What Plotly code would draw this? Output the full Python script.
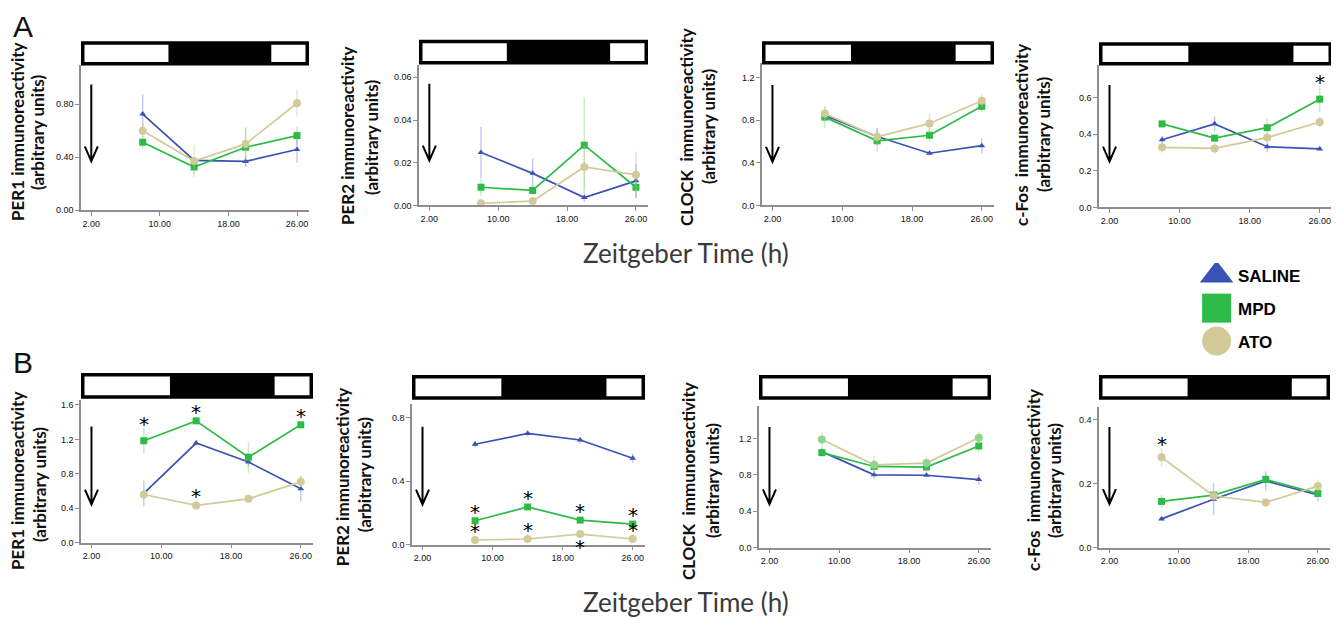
import plotly.graph_objects as go

# ---------------- data ----------------
zt = [8, 14, 20, 26]
groups = ["SALINE", "MPD", "ATO"]
x_tick_vals = [2, 10, 18, 26]
x_tick_text = ["2.00", "10.00", "18.00", "26.00"]
dark_start, dark_end = 11, 23   # dark phase of the light/dark bar (ZT)
arrow_zt = 2

# Panel A (top row)
a_per1_saline = [0.726, 0.377, 0.369, 0.459]
a_per1_mpd = [0.514, 0.327, 0.476, 0.564]
a_per1_ato = [0.601, 0.372, 0.501, 0.808]
a_per1_saline_err = [0.15, 0.02, 0.04, 0.10]
a_per1_mpd_err = [0.05, 0.05, 0.15, 0.07]
a_per1_ato_err = [0.05, 0.12, 0.12, 0.10]

a_per2_saline = [0.0248, 0.0150, 0.0037, 0.0115]
a_per2_mpd = [0.0085, 0.0070, 0.0282, 0.0085]
a_per2_ato = [0.0010, 0.0020, 0.0180, 0.0143]
a_per2_saline_err = [0.012, 0.007, 0.002, 0.008]
a_per2_mpd_err = [0.004, 0.002, 0.0225, 0.005]
a_per2_ato_err = [0.001, 0.001, 0.010, 0.011]

a_clock_saline = [0.843, 0.646, 0.489, 0.560]
a_clock_mpd = [0.828, 0.606, 0.658, 0.929]
a_clock_ato = [0.862, 0.643, 0.769, 0.982]
a_clock_saline_err = [0.05, 0.08, 0.02, 0.07]
a_clock_mpd_err = [0.10, 0.10, 0.06, 0.05]
a_clock_ato_err = [0.07, 0.07, 0.09, 0.06]

a_cfos_saline = [0.369, 0.456, 0.331, 0.319]
a_cfos_mpd = [0.456, 0.378, 0.435, 0.591]
a_cfos_ato = [0.328, 0.322, 0.381, 0.466]
a_cfos_saline_err = [0.02, 0.04, 0.03, 0.01]
a_cfos_mpd_err = [0.02, 0.02, 0.05, 0.07]
a_cfos_ato_err = [0.03, 0.03, 0.02, 0.03]

# Panel B (bottom row)
b_per1_saline = [0.571, 1.157, 0.936, 0.625]
b_per1_mpd = [1.184, 1.415, 0.993, 1.369]
b_per1_ato = [0.559, 0.432, 0.509, 0.706]
b_per1_saline_err = [0.15, 0.03, 0.05, 0.15]
b_per1_mpd_err = [0.15, 0.03, 0.18, 0.04]
b_per1_ato_err = [0.05, 0.05, 0.03, 0.07]

b_per2_saline = [0.632, 0.700, 0.659, 0.544]
b_per2_mpd = [0.150, 0.237, 0.154, 0.129]
b_per2_ato = [0.029, 0.035, 0.066, 0.035]
b_per2_saline_err = [0.02, 0.02, 0.02, 0.03]
b_per2_mpd_err = [0.01, 0.01, 0.01, 0.01]
b_per2_ato_err = [0.005, 0.005, 0.005, 0.005]

b_clock_saline = [1.055, 0.800, 0.795, 0.748]
b_clock_mpd = [1.044, 0.892, 0.885, 1.117]
b_clock_ato = [1.189, 0.910, 0.929, 1.207]
b_clock_saline_err = [0.05, 0.05, 0.02, 0.06]
b_clock_mpd_err = [0.04, 0.05, 0.05, 0.07]
b_clock_ato_err = [0.08, 0.10, 0.08, 0.07]

b_cfos_saline = [0.0895, 0.151, 0.208, 0.164]
b_cfos_mpd = [0.144, 0.164, 0.213, 0.169]
b_cfos_ato = [0.282, 0.161, 0.141, 0.192]
b_cfos_saline_err = [0.005, 0.05, 0.03, 0.02]
b_cfos_mpd_err = [0.02, 0.01, 0.02, 0.01]
b_cfos_ato_err = [0.03, 0.01, 0.01, 0.02]

# significance marks: (group, time index, side)
a_cfos_sig = [("MPD", 3, "up")]
b_per1_sig = [("MPD", 0, "up"), ("MPD", 1, "up"), ("MPD", 3, "up"), ("ATO", 1, "up")]
b_per2_sig = [("MPD", 0, "up"), ("MPD", 1, "up"), ("MPD", 2, "up"), ("MPD", 3, "up"),
              ("ATO", 0, "up"), ("ATO", 1, "up"), ("ATO", 2, "down"), ("ATO", 3, "up")]
b_cfos_sig = [("ATO", 0, "up")]

# ---------------- styling ----------------
PAGE_W, PAGE_H = 1339, 619
OFF = 8                          # default page margin of the html body
W, H = PAGE_W - OFF, PAGE_H - OFF
XR = [0.8, 27.4]
colors = {"SALINE": "#3a52b6", "MPD": "#2dbb48", "ATO": "#d2ca98"}
err_colors = {"SALINE": "rgba(90,110,210,0.35)", "MPD": "rgba(60,200,80,0.30)",
              "ATO": "rgba(200,195,130,0.40)"}
symbols = {"SALINE": "triangle-up", "MPD": "square", "ATO": "circle"}
msizes = {"SALINE": 6, "MPD": 7, "ATO": 8}
axis_col = "#8e8e8e"
FONT = "Liberation Sans, Arial"


def px(x):
    return (x - OFF) / W


def py(y):
    return 1 - (y - OFF) / H


panels = [
    dict(vals=(a_per1_saline, a_per1_mpd, a_per1_ato),
         errs=(a_per1_saline_err, a_per1_mpd_err, a_per1_ato_err),
         ymax=1.10, tv=[0, 0.4, 0.8], tt=["0.00", "0.40", "0.80"],
         xpx=(81, 309), ypx=(65, 212), bar=(41.5, 66), arrow=(0.95, 0.37),
         lab1="PER1 immunoreactivity", l1=(18, 133), l2=(38, 134), sig=[]),
    dict(vals=(a_per2_saline, a_per2_mpd, a_per2_ato),
         errs=(a_per2_saline_err, a_per2_mpd_err, a_per2_ato_err),
         ymax=0.066, tv=[0, 0.02, 0.04, 0.06], tt=["0.00", "0.02", "0.04", "0.06"],
         xpx=(419, 648), ypx=(65, 207), bar=(40, 65), arrow=(0.057, 0.021),
         lab1="PER2 immunoreactivity", l1=(348, 137), l2=(372, 138), sig=[]),
    dict(vals=(a_clock_saline, a_clock_mpd, a_clock_ato),
         errs=(a_clock_saline_err, a_clock_mpd_err, a_clock_ato_err),
         ymax=1.34, tv=[0, 0.4, 0.8, 1.2], tt=["0.0", "0.4", "0.8", "1.2"],
         xpx=(762, 994), ypx=(63, 207), bar=(41.5, 65), arrow=(1.13, 0.41),
         lab1="CLOCK  immunoreactivity", l1=(686, 128), l2=(708, 128), sig=[]),
    dict(vals=(a_cfos_saline, a_cfos_mpd, a_cfos_ato),
         errs=(a_cfos_saline_err, a_cfos_mpd_err, a_cfos_ato_err),
         ymax=0.78, tv=[0, 0.2, 0.4, 0.6], tt=["0.0", "0.2", "0.4", "0.6"],
         xpx=(1099, 1332), ypx=(65, 209), bar=(42.5, 66), arrow=(0.668, 0.25),
         lab1="c-Fos  immunoreactivity", l1=(1022, 136), l2=(1044, 136), sig=a_cfos_sig),
    dict(vals=(b_per1_saline, b_per1_mpd, b_per1_ato),
         errs=(b_per1_saline_err, b_per1_mpd_err, b_per1_ato_err),
         ymax=1.66, tv=[0, 0.4, 0.8, 1.2, 1.6], tt=["0.0", "0.4", "0.8", "1.2", "1.6"],
         xpx=(81, 313), ypx=(403, 547), bar=(376, 402), arrow=(1.35, 0.443),
         lab1="PER1 immunoreactivity", l1=(17, 485), l2=(39, 488), sig=b_per1_sig),
    dict(vals=(b_per2_saline, b_per2_mpd, b_per2_ato),
         errs=(b_per2_saline_err, b_per2_mpd_err, b_per2_ato_err),
         ymax=0.8875, tv=[0, 0.4, 0.8], tt=["0.0", "0.4", "0.8"],
         xpx=(412, 645), ypx=(407, 549), bar=(378, 403), arrow=(0.742, 0.253),
         lab1="PER2 immunoreactivity", l1=(342, 480), l2=(364, 478), sig=b_per2_sig),
    dict(vals=(b_clock_saline, b_clock_mpd, b_clock_ato),
         errs=(b_clock_saline_err, b_clock_mpd_err, b_clock_ato_err),
         ymax=1.56, tv=[0, 0.4, 0.8, 1.2], tt=["0.0", "0.4", "0.8", "1.2"],
         xpx=(759, 991), ypx=(409, 552), bar=(378, 403), arrow=(1.326, 0.477),
         lab1="CLOCK  immunoreactivity", l1=(688, 485), l2=(712, 485), sig=[]),
    dict(vals=(b_cfos_saline, b_cfos_mpd, b_cfos_ato),
         errs=(b_cfos_saline_err, b_cfos_mpd_err, b_cfos_ato_err),
         ymax=0.44, tv=[0, 0.2, 0.4], tt=["0.0", "0.2", "0.4"],
         xpx=(1099, 1330), ypx=(410, 552), bar=(378, 403), arrow=(0.377, 0.136),
         lab1="c-Fos  immunoreactivity", l1=(1033, 484), l2=(1054, 485), sig=b_cfos_sig),
]

fig = go.Figure()
shapes = []
annotations = []
layout = {}
label_font = dict(family="Lato, Liberation Sans", size=17, color="#111")
tick_font = dict(family=FONT, size=9, color="#111")

for i, p in enumerate(panels):
    n = i + 1
    xa = "x" if n == 1 else f"x{n}"
    ya = "y" if n == 1 else f"y{n}"
    xkey = "xaxis" if n == 1 else f"xaxis{n}"
    ykey = "yaxis" if n == 1 else f"yaxis{n}"
    x0p, x1p = p["xpx"]
    y0p, y1p = p["ypx"]
    layout[xkey] = dict(domain=[px(x0p), px(x1p)], range=XR, anchor=ya,
                        tickvals=x_tick_vals, ticktext=x_tick_text,
                        showline=True, linecolor=axis_col, linewidth=1.5,
                        ticks="outside", ticklen=4, tickcolor=axis_col, tickwidth=1,
                        showgrid=False, zeroline=False, tickfont=tick_font)
    layout[ykey] = dict(domain=[py(y1p), py(y0p)], range=[0, p["ymax"]], anchor=xa,
                        tickvals=p["tv"], ticktext=p["tt"],
                        showline=True, linecolor=axis_col, linewidth=1.5,
                        ticks="outside", ticklen=4, tickcolor=axis_col, tickwidth=1,
                        showgrid=False, zeroline=False, tickfont=tick_font)

    for g, v, e in zip(groups, p["vals"], p["errs"]):
        mcol = colors[g]
        if i == 6 and g == "ATO":
            mcol = "#8fd68a"
        fig.add_trace(go.Scatter(
            x=zt, y=v, mode="lines+markers", xaxis=xa, yaxis=ya, showlegend=False,
            line=dict(color=colors[g], width=1.7),
            marker=dict(symbol=symbols[g], size=msizes[g], color=mcol),
            error_y=dict(type="data", array=e, visible=True, color=err_colors[g],
                         thickness=1.5, width=0),
            cliponaxis=False, name=g))

    # pixels per unit
    ppx = (x1p - x0p) / (XR[1] - XR[0])
    ppy = (y1p - y0p) / p["ymax"]

    # light/dark bar
    b_top, b_bot = p["bar"]
    inset = 3.5
    shapes.append(dict(type="rect", xref=xa, yref="paper", x0=XR[0], x1=XR[1],
                       y0=py(b_bot), y1=py(b_top), fillcolor="black",
                       line=dict(width=0), layer="above"))
    shapes.append(dict(type="rect", xref=xa, yref="paper", x0=XR[0] + inset / ppx,
                       x1=dark_start, y0=py(b_bot - inset), y1=py(b_top + inset),
                       fillcolor="white", line=dict(width=0), layer="above"))
    shapes.append(dict(type="rect", xref=xa, yref="paper", x0=dark_end,
                       x1=XR[1] - inset / ppx, y0=py(b_bot - inset), y1=py(b_top + inset),
                       fillcolor="white", line=dict(width=0), layer="above"))

    # downward arrow
    atop, abot = p["arrow"]
    hw = 6.5 / ppx
    hh = 15 / ppy
    path = (f"M {arrow_zt},{atop} L {arrow_zt},{abot} "
            f"M {arrow_zt - hw},{abot + hh} L {arrow_zt},{abot} L {arrow_zt + hw},{abot + hh}")
    shapes.append(dict(type="path", xref=xa, yref=ya, path=path,
                       line=dict(color="black", width=2)))

    # y labels (two lines)
    annotations.append(dict(text="<b>" + p["lab1"] + "</b>", xref="paper", yref="paper",
                            x=px(p["l1"][0]), y=py(p["l1"][1]), textangle=-90,
                            showarrow=False, xanchor="center", yanchor="middle",
                            font=label_font))
    annotations.append(dict(text="<b>(arbitrary units)</b>", xref="paper", yref="paper",
                            x=px(p["l2"][0]), y=py(p["l2"][1]), textangle=-90,
                            showarrow=False, xanchor="center", yanchor="middle",
                            font=label_font))

    # significance asterisks (placed just clear of the error bar)
    for g, idx, side in p["sig"]:
        gi = groups.index(g)
        yv = p["vals"][gi][idx]
        off = max(11, p["errs"][gi][idx] * ppy + 6)
        shift = off - 2 if side == "up" else -off - 2
        annotations.append(dict(text="*", xref=xa, yref=ya, x=zt[idx], y=yv,
                                yshift=shift, showarrow=False,
                                xanchor="center", yanchor="middle",
                                font=dict(family="DejaVu Sans", size=20, color="black")))

# panel letters and x titles
annotations.append(dict(text="A", xref="paper", yref="paper", x=px(23), y=1.0,
                        xanchor="center", yanchor="top", showarrow=False,
                        font=dict(family=FONT, size=30, color="#111")))
annotations.append(dict(text="B", xref="paper", yref="paper", x=px(23), y=py(365),
                        xanchor="center", yanchor="middle", showarrow=False,
                        font=dict(family=FONT, size=30, color="#111")))
for yy in (255, 607):
    annotations.append(dict(text="Zeitgeber Time (h)", xref="paper", yref="paper",
                            x=px(686), y=py(yy), xanchor="center", yanchor="middle",
                            showarrow=False,
                            font=dict(family="Lato, Open Sans", size=26, color="#3a3a3a")))

# legend (separate invisible axis)
leg_x = [0.16, 0.16, 0.16]
leg_y = [0.87, 0.52, 0.17]
for g, lx, ly in zip(groups, leg_x, leg_y):
    fig.add_trace(go.Scatter(x=[lx], y=[ly], mode="markers", xaxis="x9", yaxis="y9",
                             showlegend=False, hoverinfo="skip",
                             marker=dict(symbol=symbols[g], size=29, color=colors[g])))
    annotations.append(dict(text="<b>" + g + "</b>", xref="x9", yref="y9", x=0.30, y=ly,
                            xanchor="left", yanchor="middle", showarrow=False, yshift=-1,
                            font=dict(family=FONT, size=17, color="black")))
layout["xaxis9"] = dict(domain=[px(1195), px(1330)], range=[0, 1], visible=False, anchor="y9")
layout["yaxis9"] = dict(domain=[py(360), py(265)], range=[0, 1], visible=False, anchor="x9")

fig.update_layout(width=W, height=H, margin=dict(l=0, r=0, t=0, b=0),
                  paper_bgcolor="white", plot_bgcolor="white",
                  shapes=shapes, annotations=annotations, showlegend=False, **layout)

fig.write_html("out.html")
